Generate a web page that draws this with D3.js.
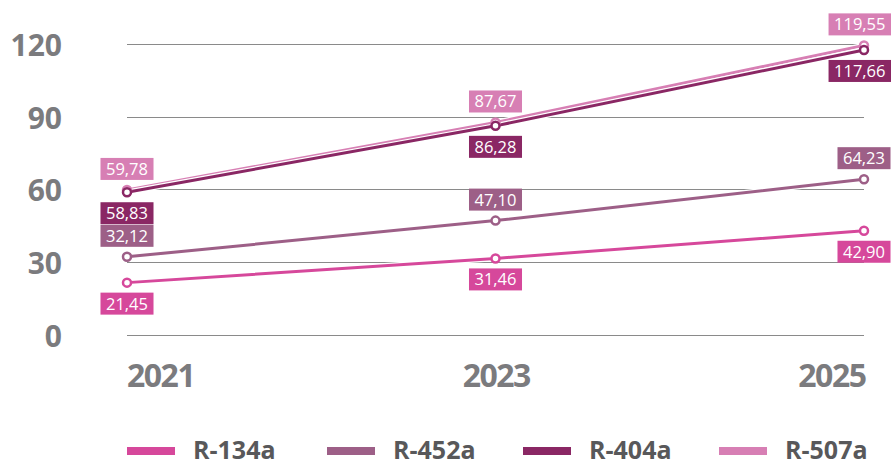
<!DOCTYPE html>
<html><head><meta charset="utf-8">
<script src="https://cdn.jsdelivr.net/npm/d3@7"></script>
<style>
html,body{margin:0;padding:0;background:#fff;}
svg{display:block;}
</style></head>
<body>
<svg id="chart" width="894" height="466"></svg>
<script>
const years = ["2021", "2023", "2025"];
const yTicks = [0, 30, 60, 90, 120];
const seriesNames = ["R-134a", "R-452a", "R-404a", "R-507a"];
const r134a = [21.45, 31.46, 42.90];
const r452a = [32.12, 47.10, 64.23];
const r404a = [58.83, 86.28, 117.66];
const r507a = [59.78, 87.67, 119.55];
const colors = ["#d6489b", "#9d5f87", "#8a2764", "#d77fb4"];
const labelSide = ["below", "above", "below", "above"];

const series = [
  {name: seriesNames[0], values: r134a, color: colors[0], side: labelSide[0]},
  {name: seriesNames[1], values: r452a, color: colors[1], side: labelSide[1]},
  {name: seriesNames[2], values: r404a, color: colors[2], side: labelSide[2]},
  {name: seriesNames[3], values: r507a, color: colors[3], side: labelSide[3]}
];
const drawOrder = [0, 1, 3, 2];

const svg = d3.select("#chart");
const W = 894;
const x = d3.scalePoint().domain(years).range([127, 864]);
const y = d3.scaleLinear().domain([0, 120]).range([334.5, 44.3]);

// gridlines
svg.append("g").selectAll("line").data(yTicks).join("line")
  .attr("x1", 127).attr("x2", 864)
  .attr("y1", d => Math.round(y(d)) + 0.5).attr("y2", d => Math.round(y(d)) + 0.5)
  .attr("stroke", "#8a8a8a").attr("stroke-width", 1);

// y labels
svg.append("g").selectAll("text").data(yTicks).join("text")
  .attr("x", 62).attr("y", d => y(d) + 12)
  .attr("text-anchor", "end")
  .attr("font-family", "'Open Sans', sans-serif").attr("font-weight", 700)
  .attr("font-size", 30).attr("fill", "#7b7b7e")
  .text(d => d);

// x labels
svg.append("g").selectAll("text").data(years).join("text")
  .attr("x", (d, i) => x(d) + (i === 0 ? 0 : (i === years.length - 1 ? 1.5 : 0.75)))
  .attr("y", 387)
  .attr("text-anchor", (d, i) => i === 0 ? "start" : (i === years.length - 1 ? "end" : "middle"))
  .attr("font-family", "'Open Sans', sans-serif").attr("font-weight", 700)
  .attr("font-size", 32).attr("letter-spacing", -1.5).attr("fill", "#7b7b7e")
  .text(d => d);

const line = d3.line().x((d, i) => x(years[i])).y(d => y(d));

const gLines = svg.append("g");
drawOrder.forEach(k => {
  const s = series[k];
  gLines.append("path").datum(s.values).attr("d", line)
    .attr("fill", "none").attr("stroke", "#fff").attr("stroke-width", 5.5);
  gLines.append("path").datum(s.values).attr("d", line)
    .attr("fill", "none").attr("stroke", s.color).attr("stroke-width", 3);
});
drawOrder.forEach(k => {
  const s = series[k];
  gLines.append("g").selectAll("circle").data(s.values).join("circle")
    .attr("cx", (d, i) => x(years[i])).attr("cy", d => y(d))
    .attr("r", 4).attr("fill", "#fff").attr("stroke", s.color).attr("stroke-width", 2.5);
});

// data labels
const fmt = v => v.toFixed(2).replace(".", ",");
const gLab = svg.append("g");
series.forEach(s => {
  s.values.forEach((v, i) => {
    const txt = fmt(v);
    const g = gLab.append("g");
    const t = g.append("text")
      .attr("font-family", "'Open Sans', sans-serif").attr("font-size", 16.5)
      .attr("fill", "#fff").attr("text-anchor", "middle").text(txt);
    const bw = t.node().getComputedTextLength() + 11;
    const bh = 22;
    let cx = x(years[i]);
    cx = Math.min(cx, W - 3 - bw / 2);
    const py = y(v);
    const top = s.side === "above" ? py - 10 - bh : py + 10;
    g.insert("rect", "text").attr("x", cx - bw / 2).attr("y", top)
      .attr("width", bw).attr("height", bh).attr("fill", s.color);
    t.attr("x", cx).attr("y", top + 17);
  });
});

// legend
const legX = [127, 327, 523, 719];
const gLeg = svg.append("g");
series.forEach((s, i) => {
  gLeg.append("rect").attr("x", legX[i]).attr("y", 447).attr("width", 48).attr("height", 8)
    .attr("fill", s.color);
  gLeg.append("text").attr("x", legX[i] + 66).attr("y", 459)
    .attr("font-family", "'Open Sans', sans-serif").attr("font-weight", 700)
    .attr("font-size", 25).attr("fill", "#58585a").text(s.name);
});
</script>
</body></html>
